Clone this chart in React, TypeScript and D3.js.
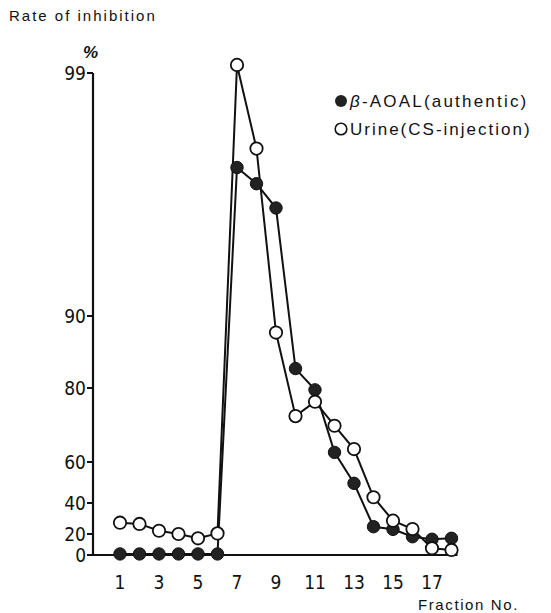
import React from "react";
import * as d3 from "d3";

// fraction numbers 1..18
const fractions = [1, 2, 3, 4, 5, 6, 7, 8, 9, 10, 11, 12, 13, 14, 15, 16, 17, 18];
// rate of inhibition (%)
const authentic = [1, 1, 1, 1, 1, 1, 95.5, 94.9, 94.0, 82.7, 79.5, 62.6, 49.6, 24.7, 23.0, 17.4, 15.0, 15.9];
const urine = [27.3, 26.5, 22.1, 20.0, 15.9, 20.4, 99.3, 96.2, 87.7, 72.4, 76.3, 69.8, 63.5, 42.8, 28.6, 23.2, 6.4, 4.8];
// the y axis is hand-drawn with uneven spacing
const yTicks = [0, 20, 40, 60, 80, 90, 99];
const xTicks = [1, 3, 5, 7, 9, 11, 13, 15, 17];

const W = 551;
const H = 613;
const numFont = "'Liberation Sans Narrow', 'DejaVu Sans Condensed', sans-serif";
const textFont = "'Liberation Sans', Arial, sans-serif";

export default function App() {
  const x = d3.scaleLinear().domain([1, 18]).range([120, 451.5]);
  // piecewise scale to mimic the uneven hand-drawn axis
  const y = d3
    .scaleLinear()
    .domain(yTicks)
    .range([555, 534, 503, 462, 388, 316, 73]);

  const line = d3
    .line<number>()
    .x((_, i) => x(fractions[i]))
    .y((d) => y(d));

  const axisX = x.range()[0] - 27;

  return (
    <svg
      width={W}
      height={H}
      style={{ position: "absolute", left: 0, top: 0, background: "#fff" }}
    >
      <text x={9} y={21} fontFamily={textFont} fontSize={15} letterSpacing={2} fill="#111">
        Rate of inhibition
      </text>
      <text x={83} y={58} fontFamily={textFont} fontSize={17} fontStyle="italic" fontWeight="bold" fill="#111">
        %
      </text>

      {/* y axis */}
      <line x1={axisX} x2={axisX} y1={y(99)} y2={y(0)} stroke="#111" strokeWidth={2.2} />
      {yTicks.map((t) => (
        <g key={t}>
          <line x1={axisX - 6} x2={axisX} y1={y(t)} y2={y(t)} stroke="#111" strokeWidth={2} />
          <text
            x={axisX - 7}
            y={y(t)}
            dy="0.36em"
            textAnchor="end"
            fontFamily={numFont}
            fontSize={19}
            fill="#111"
          >
            {t}
          </text>
        </g>
      ))}

      {/* x axis */}
      <line x1={axisX} x2={x(18) + 6} y1={y(0)} y2={y(0)} stroke="#111" strokeWidth={2.2} />
      {xTicks.map((t) => (
        <text
          key={t}
          x={x(t)}
          y={589}
          textAnchor="middle"
          fontFamily={numFont}
          fontSize={19}
          fill="#111"
        >
          {t}
        </text>
      ))}
      <text x={418} y={610} fontFamily={textFont} fontSize={15} letterSpacing={1.6} fill="#111">
        Fraction No.
      </text>

      {/* series lines */}
      <path d={line(authentic) ?? ""} fill="none" stroke="#111" strokeWidth={2} />
      <path d={line(urine) ?? ""} fill="none" stroke="#111" strokeWidth={2} />

      {authentic.map((v, i) => (
        <circle key={"a" + i} cx={x(fractions[i])} cy={y(v)} r={6.2} fill="#222" stroke="#111" strokeWidth={1} />
      ))}
      {urine.map((v, i) => (
        <circle key={"u" + i} cx={x(fractions[i])} cy={y(v)} r={6.2} fill="#fff" stroke="#111" strokeWidth={1.8} />
      ))}

      {/* legend */}
      <circle cx={341} cy={101} r={6} fill="#222" />
      <text x={350} y={107} fontFamily={textFont} fontSize={17} letterSpacing={2.2} fill="#111">
        <tspan fontStyle="italic">β</tspan>-AOAL(authentic)
      </text>
      <circle cx={341} cy={129} r={5.8} fill="#fff" stroke="#111" strokeWidth={1.6} />
      <text x={350} y={135} fontFamily={textFont} fontSize={17} letterSpacing={2} fill="#111">
        Urine(CS-injection)
      </text>
    </svg>
  );
}
